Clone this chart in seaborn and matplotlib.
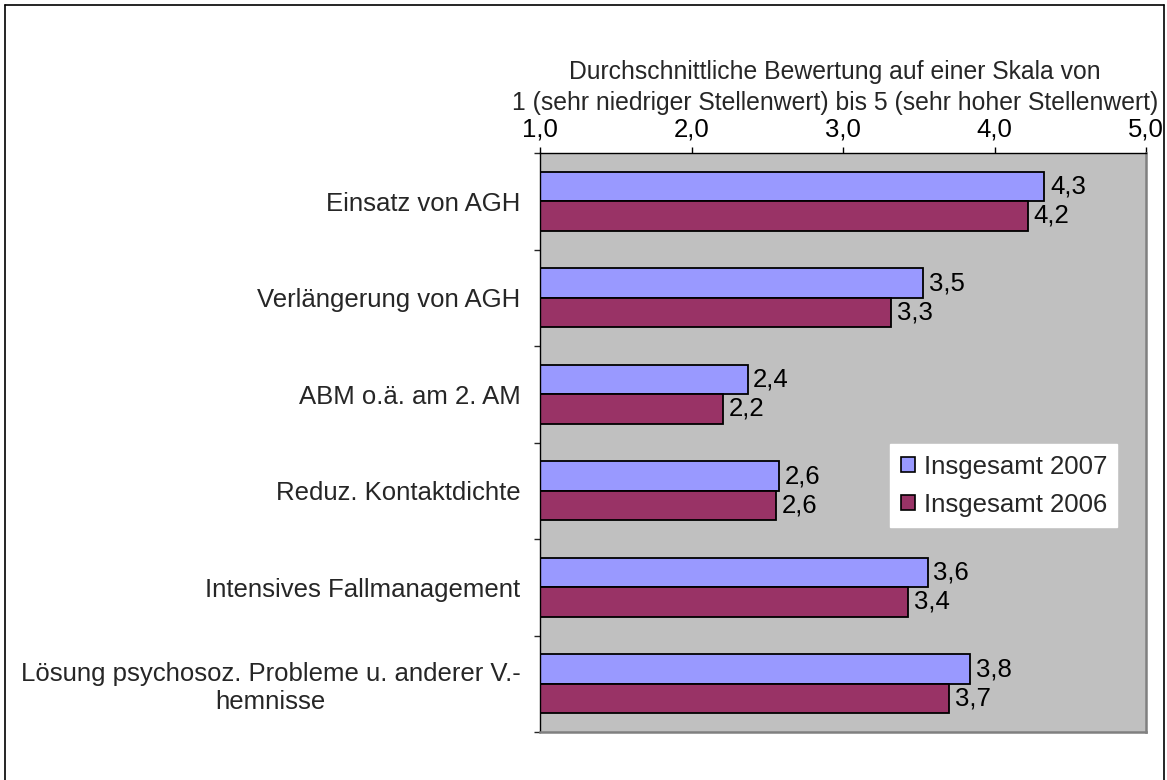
import matplotlib
matplotlib.use("Agg")
import matplotlib.pyplot as plt
import seaborn as sns
import pandas as pd
from matplotlib.lines import Line2D
from matplotlib.ticker import FuncFormatter, FixedLocator

categories = [
    "Einsatz von AGH",
    "Verlängerung von AGH",
    "ABM o.ä. am 2. AM",
    "Reduz. Kontaktdichte",
    "Intensives Fallmanagement",
    "Lösung psychosoz. Probleme u. anderer V.-\nhemnisse",
]
series = ["Insgesamt 2007", "Insgesamt 2006"]
values_2007 = [4.33, 3.53, 2.37, 2.58, 3.56, 3.84]
values_2006 = [4.22, 3.32, 2.21, 2.56, 3.43, 3.70]
x_ticks = [1.0, 2.0, 3.0, 4.0, 5.0]
axis_title = "Durchschnittliche Bewertung auf einer Skala von\n1 (sehr niedriger Stellenwert) bis 5 (sehr hoher Stellenwert)"
colors = ["#9999FF", "#993366"]

df = pd.DataFrame({
    "Kategorie": categories * 2,
    "Serie": [series[0]] * len(categories) + [series[1]] * len(categories),
    "Wert": values_2007 + values_2006,
})

sns.set_style("white")
plt.rcParams["font.family"] = ["Liberation Sans", "DejaVu Sans"]
FS = 18.5

fig = plt.figure(figsize=(11.67, 7.8), dpi=100)
ax = fig.add_axes([540 / 1167, 1 - 732 / 780, (1146 - 540) / 1167, (732 - 153) / 780])

sns.barplot(data=df, y="Kategorie", x="Wert", hue="Serie", hue_order=series,
            order=categories, palette=colors, orient="h", width=0.61,
            edgecolor="black", linewidth=1.3, ax=ax, saturation=1, errorbar=None)

ax.set_facecolor("#C0C0C0")
ax.set_xlim(1.0, 5.0)
ax.set_ylim(len(categories) - 0.5, -0.5)

fmt = lambda v: f"{v:.1f}".replace(".", ",")
for cont in ax.containers:
    ax.bar_label(cont, labels=[fmt(b.get_width()) for b in cont], padding=4,
                 fontsize=FS, color="black")

ax.xaxis.tick_top()
ax.xaxis.set_label_position("top")
ax.set_xticks(x_ticks)
ax.xaxis.set_major_formatter(FuncFormatter(lambda v, p: fmt(v)))
ax.tick_params(axis="x", direction="out", length=4.5, width=1, colors="black",
               labelsize=FS, pad=3.5, top=True, bottom=False)
ax.set_xlabel(axis_title, fontsize=17.8, linespacing=1.35)
ax.xaxis.set_label_coords(0.487, 1.066)
ax.xaxis.label.set_verticalalignment("bottom")

ax.set_yticks(range(len(categories)))
ax.set_yticklabels(categories, fontsize=FS, multialignment="center", linespacing=1.2)
ax.tick_params(axis="y", which="major", length=0, pad=14)
ax.yaxis.set_minor_locator(FixedLocator([i - 0.5 for i in range(len(categories) + 1)]))
ax.tick_params(axis="y", which="minor", length=4.5, width=1, direction="out", left=True)
ax.set_ylabel("")

for s in ["top", "left"]:
    ax.spines[s].set_color("black")
    ax.spines[s].set_linewidth(1.0)
for s in ["right", "bottom"]:
    ax.spines[s].set_color("#808080")
    ax.spines[s].set_linewidth(1.8)

leg = ax.legend(loc="upper left", bbox_to_anchor=(0.578, 0.497), fontsize=FS,
                frameon=True, fancybox=False, facecolor="white", edgecolor="white",
                framealpha=1, handlelength=0.55, handleheight=0.55, handletextpad=0.35,
                borderpad=0.4, labelspacing=0.55, borderaxespad=0)
for h in leg.legend_handles:
    h.set_edgecolor("black")
    h.set_linewidth(1.2)

# outer chart frame (bottom edge cropped in the reference)
xl, xr, yt = 5 / 1167, 1164 / 1167, 1 - 5 / 780
for xs, ys in [([xl, xl], [0, yt]), ([xl, xr], [yt, yt]), ([xr, xr], [yt, 0])]:
    fig.add_artist(Line2D(xs, ys, transform=fig.transFigure, color="black", linewidth=1.2))

fig.savefig("out.png", dpi=100, facecolor="white")
